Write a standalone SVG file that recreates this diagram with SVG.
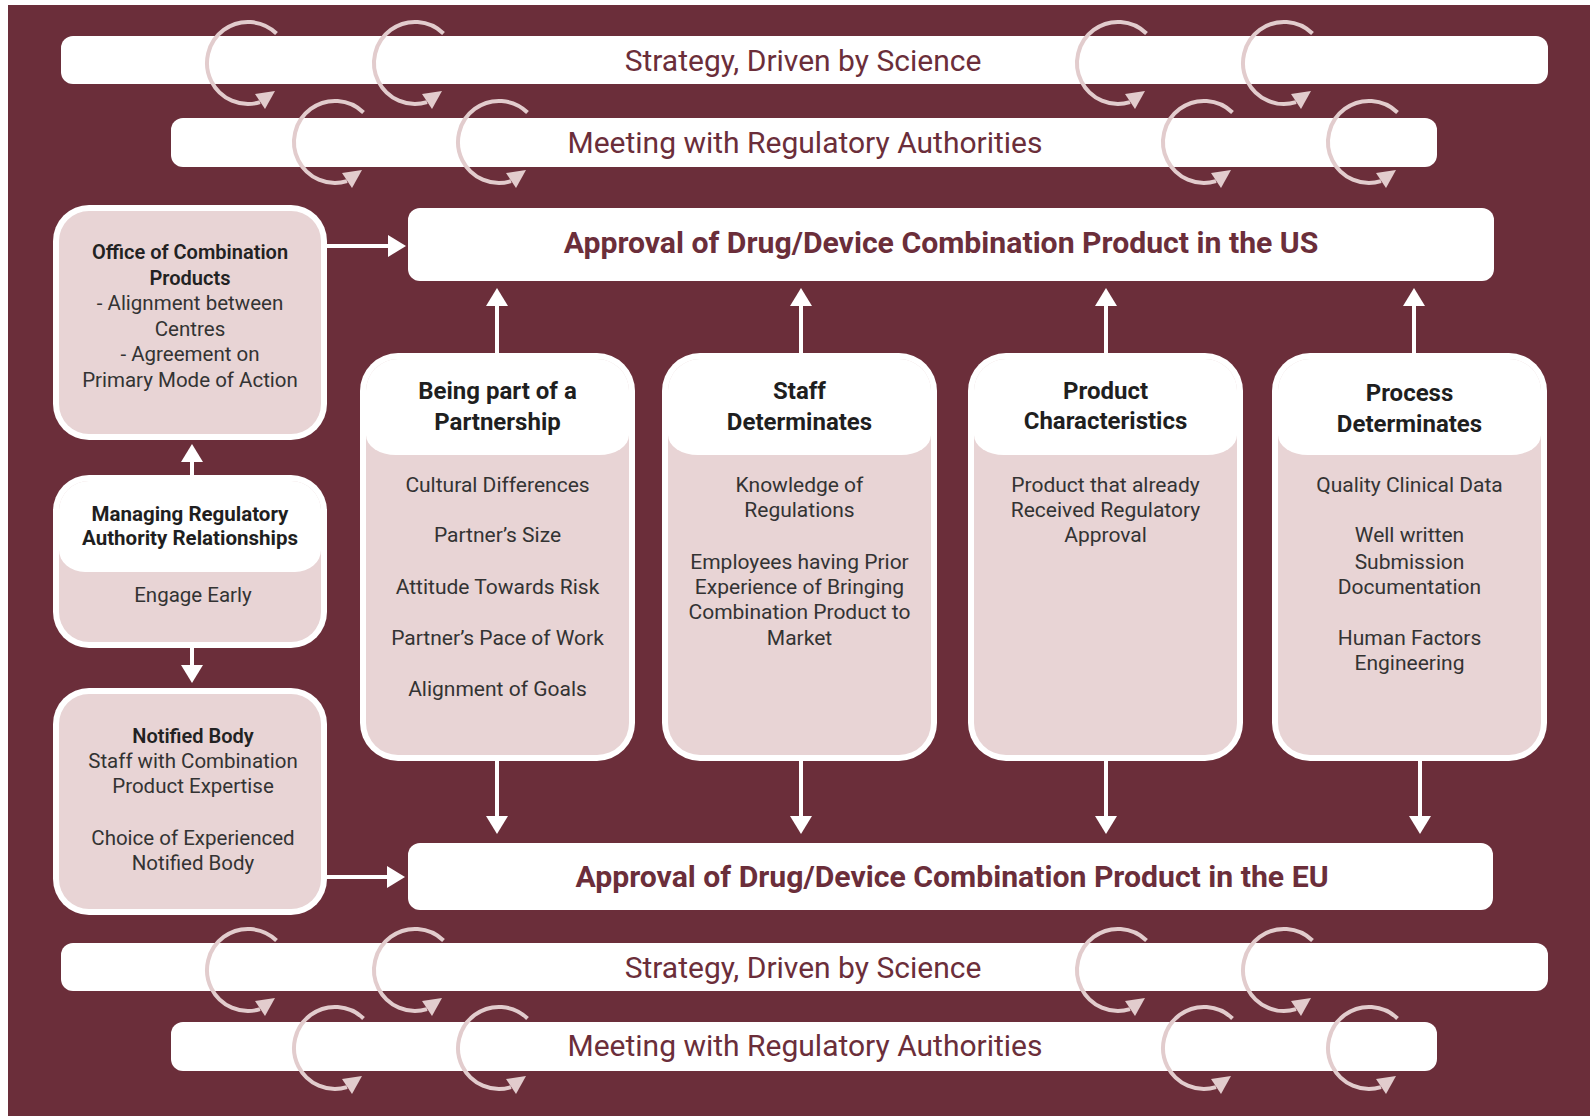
<svg xmlns="http://www.w3.org/2000/svg" width="1590" height="1116" viewBox="0 0 1590 1116">
<style>
.bg{fill:#6b2e3a}
.bar{fill:#ffffff}
.bt{font-family:Roboto,"Liberation Sans",sans-serif;font-size:30px;fill:#6b2e3a;text-anchor:middle}
.at{font-family:Roboto,"Liberation Sans",sans-serif;font-size:30.2px;font-weight:bold;fill:#6b2e3a;text-anchor:middle}
.ring{fill:none;stroke:#e2cccd;stroke-width:4}
.ringh{fill:#e2cccd}
.ob{fill:#ffffff}
.ib{fill:#e8d4d5}
.hd{fill:#ffffff}
.t{font-family:Roboto,"Liberation Sans",sans-serif;font-size:21px;fill:#333333;text-anchor:middle}
.h{font-family:Roboto,"Liberation Sans",sans-serif;font-size:24px;font-weight:bold;fill:#1f1f1f;text-anchor:middle}
.lt{font-family:Roboto,"Liberation Sans",sans-serif;font-size:20.5px;fill:#333333;text-anchor:middle}
.lm{font-family:Roboto,"Liberation Sans",sans-serif;font-size:20px;font-weight:600;fill:#222222;text-anchor:middle}
.lb{font-family:Roboto,"Liberation Sans",sans-serif;font-size:20.5px;font-weight:bold;fill:#1f1f1f;text-anchor:middle}
.conn line{stroke:#ffffff;stroke-width:4;marker-end:url(#ah)}
</style>
<defs>
<marker id="ah" markerUnits="userSpaceOnUse" markerWidth="20" markerHeight="22" refX="2" refY="11" orient="auto" overflow="visible"><path d="M0,0 L18,11 L0,22 Z" fill="#ffffff"/></marker>
<g id="cyc"><path class="ring" d="M28.5,-29.5 A41,41 0 1 0 12,39.2"/><polygon class="ringh" points="27,28 7,31 17,46"/></g>
</defs>
<rect class="bg" x="8" y="5" width="1582" height="1111"/>

<g id="strategy-top">
<rect class="bar" x="61" y="36" width="1487" height="48" rx="12"/>
<use href="#cyc" transform="translate(248,63)"/><use href="#cyc" transform="translate(415,63)"/><use href="#cyc" transform="translate(1118,63)"/><use href="#cyc" transform="translate(1284,63)"/>
<text class="bt" x="803" y="71">Strategy, Driven by Science</text>
</g>
<g id="meeting-top">
<rect class="bar" x="171" y="118" width="1266" height="49" rx="12"/>
<use href="#cyc" transform="translate(335,142)"/><use href="#cyc" transform="translate(499,142)"/><use href="#cyc" transform="translate(1204,142)"/><use href="#cyc" transform="translate(1369,142)"/>
<text class="bt" x="805" y="153">Meeting with Regulatory Authorities</text>
</g>
<g id="approval-us">
<rect class="bar" x="408" y="208" width="1086" height="73" rx="12"/>
<text class="at" x="941" y="253">Approval of Drug/Device Combination Product in the US</text>
</g>
<g id="approval-eu">
<rect class="bar" x="408" y="843" width="1085" height="67" rx="12"/>
<text class="at" x="952" y="887">Approval of Drug/Device Combination Product in the EU</text>
</g>
<g id="strategy-bottom">
<rect class="bar" x="61" y="943" width="1487" height="48" rx="12"/>
<use href="#cyc" transform="translate(248,970)"/><use href="#cyc" transform="translate(415,970)"/><use href="#cyc" transform="translate(1118,970)"/><use href="#cyc" transform="translate(1284,970)"/>
<text class="bt" x="803" y="978">Strategy, Driven by Science</text>
</g>
<g id="meeting-bottom">
<rect class="bar" x="171" y="1022" width="1266" height="49" rx="12"/>
<use href="#cyc" transform="translate(335,1048)"/><use href="#cyc" transform="translate(499,1048)"/><use href="#cyc" transform="translate(1204,1048)"/><use href="#cyc" transform="translate(1369,1048)"/>
<text class="bt" x="805" y="1056">Meeting with Regulatory Authorities</text>
</g>

<g id="office">
<rect class="ob" x="53" y="205" width="274" height="235" rx="36"/>
<rect class="ib" x="59" y="211" width="262" height="223" rx="30"/>
<text class="lm" x="190" y="259">Office of Combination</text>
<text class="lm" x="190" y="284.5">Products</text>
<text class="lt" x="190" y="310">- Alignment between</text>
<text class="lt" x="190" y="335.5">Centres</text>
<text class="lt" x="190" y="361">- Agreement on</text>
<text class="lt" x="190" y="386.5">Primary Mode of Action</text>
</g>
<g id="managing">
<rect class="ob" x="53" y="475" width="274" height="173" rx="36"/>
<rect class="ib" x="59" y="481" width="262" height="161" rx="30"/>
<path class="hd" d="M59,511 A30,30 0 0 1 89,481 H291 A30,30 0 0 1 321,511 V550 A26,22 0 0 1 295,572 H85 A26,22 0 0 1 59,550 Z"/>
<text class="lb" x="190" y="521">Managing Regulatory</text>
<text class="lb" x="190" y="545">Authority Relationships</text>
<text class="lt" x="193" y="602">Engage Early</text>
</g>
<g id="notified">
<rect class="ob" x="53" y="688" width="274" height="227" rx="36"/>
<rect class="ib" x="59" y="694" width="262" height="215" rx="30"/>
<text class="lm" x="193" y="743">Notified Body</text>
<text class="lt" x="193" y="768">Staff with Combination</text>
<text class="lt" x="193" y="793">Product Expertise</text>
<text class="lt" x="193" y="845">Choice of Experienced</text>
<text class="lt" x="193" y="870">Notified Body</text>
</g>

<g id="partnership">
<rect class="ob" x="360" y="353" width="275" height="408" rx="38"/>
<rect class="ib" x="366" y="359" width="263" height="396" rx="32"/>
<path class="hd" d="M366,391 A32,32 0 0 1 398,359 H597 A32,32 0 0 1 629,391 V435 A30,20 0 0 1 599,455 H396 A30,20 0 0 1 366,435 Z"/>
<text class="h" x="497.5" y="399">Being part of a</text>
<text class="h" x="497.5" y="430">Partnership</text>
<text class="t" x="497.5" y="492">Cultural Differences</text>
<text class="t" x="497.5" y="542">Partner’s Size</text>
<text class="t" x="497.5" y="594">Attitude Towards Risk</text>
<text class="t" x="497.5" y="645">Partner’s Pace of Work</text>
<text class="t" x="497.5" y="696">Alignment of Goals</text>
</g>
<g id="staff">
<rect class="ob" x="662" y="353" width="275" height="408" rx="38"/>
<rect class="ib" x="668" y="359" width="263" height="396" rx="32"/>
<path class="hd" d="M668,391 A32,32 0 0 1 700,359 H899 A32,32 0 0 1 931,391 V435 A30,20 0 0 1 901,455 H698 A30,20 0 0 1 668,435 Z"/>
<text class="h" x="799.5" y="399">Staff</text>
<text class="h" x="799.5" y="430">Determinates</text>
<text class="t" x="799.5" y="492">Knowledge of</text>
<text class="t" x="799.5" y="517">Regulations</text>
<text class="t" x="799.5" y="569">Employees having Prior</text>
<text class="t" x="799.5" y="594">Experience of Bringing</text>
<text class="t" x="799.5" y="619">Combination Product to</text>
<text class="t" x="799.5" y="645">Market</text>
</g>
<g id="product">
<rect class="ob" x="968" y="353" width="275" height="408" rx="38"/>
<rect class="ib" x="974" y="359" width="263" height="396" rx="32"/>
<path class="hd" d="M974,391 A32,32 0 0 1 1006,359 H1205 A32,32 0 0 1 1237,391 V435 A30,20 0 0 1 1207,455 H1004 A30,20 0 0 1 974,435 Z"/>
<text class="h" x="1105.5" y="399">Product</text>
<text class="h" x="1105.5" y="429">Characteristics</text>
<text class="t" x="1105.5" y="492">Product that already</text>
<text class="t" x="1105.5" y="517">Received Regulatory</text>
<text class="t" x="1105.5" y="542">Approval</text>
</g>
<g id="process">
<rect class="ob" x="1272" y="353" width="275" height="408" rx="38"/>
<rect class="ib" x="1278" y="359" width="263" height="396" rx="32"/>
<path class="hd" d="M1278,391 A32,32 0 0 1 1310,359 H1509 A32,32 0 0 1 1541,391 V435 A30,20 0 0 1 1511,455 H1308 A30,20 0 0 1 1278,435 Z"/>
<text class="h" x="1409.5" y="401">Process</text>
<text class="h" x="1409.5" y="432">Determinates</text>
<text class="t" x="1409.5" y="492">Quality Clinical Data</text>
<text class="t" x="1409.5" y="542">Well written</text>
<text class="t" x="1409.5" y="569">Submission</text>
<text class="t" x="1409.5" y="594">Documentation</text>
<text class="t" x="1409.5" y="645">Human Factors</text>
<text class="t" x="1409.5" y="670">Engineering</text>
</g>

<g id="connectors" class="conn">
<line x1="327" y1="246" x2="390" y2="246"/>
<line x1="327" y1="877" x2="389" y2="877"/>
<line x1="192" y1="475" x2="192" y2="460"/>
<line x1="192" y1="648" x2="192" y2="667"/>
<line x1="497" y1="353" x2="497" y2="304"/>
<line x1="801" y1="353" x2="801" y2="304"/>
<line x1="1106" y1="353" x2="1106" y2="304"/>
<line x1="1414" y1="353" x2="1414" y2="304"/>
<line x1="497" y1="761" x2="497" y2="818"/>
<line x1="801" y1="761" x2="801" y2="818"/>
<line x1="1106" y1="761" x2="1106" y2="818"/>
<line x1="1420" y1="761" x2="1420" y2="818"/>
</g>
</svg>
